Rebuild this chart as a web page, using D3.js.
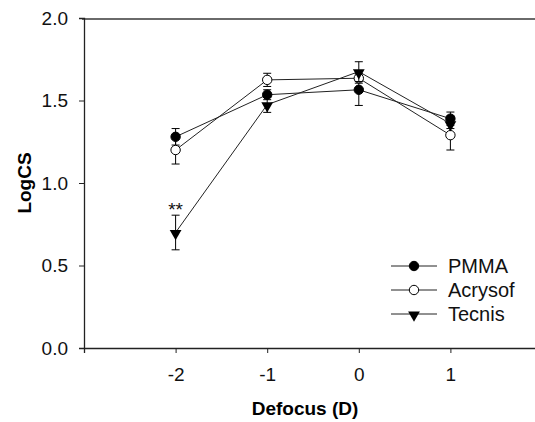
<!DOCTYPE html>
<html>
<head>
<meta charset="utf-8">
<script src="https://cdn.jsdelivr.net/npm/d3@7"></script>
<style>
  body { margin: 0; background: #fff; }
  svg { font-family: Arial, "Liberation Sans", sans-serif; }
</style>
</head>
<body>
<script>
// defocus levels (D)
var defocus = [-2, -1, 0, 1];
var seriesNames = ["PMMA", "Acrysof", "Tecnis"];

// LogCS means and SEM
var pmmaVals = [1.28, 1.535, 1.565, 1.39];
var pmmaErr = [0.05, 0.03, 0.095, 0.04];
var acrysofVals = [1.20, 1.625, 1.635, 1.29];
var acrysofErr = [0.085, 0.04, 0.03, 0.09];
var tecnisVals = [0.70, 1.475, 1.675, 1.36];
var tecnisErr = [0.105, 0.047, 0.06, 0.03];

var yTicks = [0.0, 0.5, 1.0, 1.5, 2.0];

function chart() {
    var width = 535, height = 422;
    var margin = {left: 84, top: 18, right: -7, bottom: 74};

    var svg = d3.select("body").append("svg")
        .attr("width", width)
        .attr("height", height);

    var x = d3.scaleLinear().domain([-3, 2])
        .range([margin.left, width - margin.right]);
    var y = d3.scaleLinear().domain([0, 2])
        .range([height - margin.bottom, margin.top]);

    // top frame line
    svg.append("line")
        .attr("x1", x(-3) - 2).attr("x2", width)
        .attr("y1", y(2) + 1).attr("y2", y(2) + 1)
        .attr("stroke", "#6a6a6a").attr("stroke-width", 2);

    var yAxis = svg.append("g")
        .attr("transform", "translate(" + x(-3) + ",0)")
        .call(d3.axisLeft(y).tickValues(yTicks).tickFormat(d3.format(".1f")).tickSize(5).tickPadding(11));
    var xAxis = svg.append("g")
        .attr("transform", "translate(0," + y(0) + ")")
        .call(d3.axisBottom(x).tickValues(defocus).tickFormat(d3.format("d")).tickSize(5).tickPadding(15));

    [xAxis, yAxis].forEach(function (ax) {
        ax.select(".domain").attr("stroke", "#222").attr("stroke-width", 1.3);
        ax.selectAll(".tick line").attr("stroke", "#222");
        ax.selectAll(".tick text").attr("font-size", 19).attr("fill", "#111")
            .attr("font-family", "Arial, 'Liberation Sans', sans-serif");
    });
    xAxis.selectAll(".tick text").text(function (d) { return d < 0 ? "-" + Math.abs(d) : d; });

    svg.append("text")
        .attr("x", 305).attr("y", 415)
        .attr("text-anchor", "middle")
        .attr("font-size", 19).attr("font-weight", "bold")
        .text("Defocus (D)");

    svg.append("text")
        .attr("transform", "translate(31," + y(1) + ") rotate(-90)")
        .attr("text-anchor", "middle")
        .attr("font-size", 19).attr("font-weight", "bold")
        .text("LogCS");

    var series = [
        {name: seriesNames[0], vals: pmmaVals, err: pmmaErr, marker: "filled"},
        {name: seriesNames[1], vals: acrysofVals, err: acrysofErr, marker: "open"},
        {name: seriesNames[2], vals: tecnisVals, err: tecnisErr, marker: "tri"}
    ];

    var line = d3.line()
        .x(function (d) { return x(d.x); })
        .y(function (d) { return y(d.v); });

    function drawMarker(g, type, cx, cy) {
        if (type === "tri") {
            g.append("path")
                .attr("d", d3.symbol().type(d3.symbolTriangle).size(60)())
                .attr("transform", "translate(" + cx + "," + (cy + 1) + ") rotate(180)")
                .attr("fill", "#000");
        } else {
            g.append("circle")
                .attr("cx", cx).attr("cy", cy).attr("r", 4.7)
                .attr("fill", type === "filled" ? "#000" : "#fff")
                .attr("stroke", "#000").attr("stroke-width", 1);
        }
    }

    series.forEach(function (s) {
        var pts = defocus.map(function (d, i) { return {x: d, v: s.vals[i], e: s.err[i]}; });
        var g = svg.append("g");

        pts.forEach(function (p) {
            var cx = x(p.x);
            g.append("line").attr("x1", cx).attr("x2", cx)
                .attr("y1", y(p.v - p.e)).attr("y2", y(p.v + p.e))
                .attr("stroke", "#000").attr("stroke-width", 1);
            [p.v - p.e, p.v + p.e].forEach(function (v) {
                g.append("line").attr("x1", cx - 4).attr("x2", cx + 4)
                    .attr("y1", y(v)).attr("y2", y(v))
                    .attr("stroke", "#000").attr("stroke-width", 1);
            });
        });

        g.append("path").datum(pts)
            .attr("d", line)
            .attr("fill", "none").attr("stroke", "#222").attr("stroke-width", 1);

        pts.forEach(function (p) { drawMarker(g, s.marker, x(p.x), y(p.v)); });
    });

    // significance mark
    svg.append("text")
        .attr("x", x(-2)).attr("y", y(tecnisVals[0] + tecnisErr[0]) + 1)
        .attr("text-anchor", "middle")
        .attr("font-size", 19).attr("fill", "#111")
        .text("**");

    // legend
    var legend = svg.append("g");
    series.forEach(function (s, i) {
        var ly = 266 + i * 24;
        legend.append("line").attr("x1", 391).attr("x2", 437)
            .attr("y1", ly).attr("y2", ly)
            .attr("stroke", "#222").attr("stroke-width", 1);
        drawMarker(legend, s.marker, 414, ly);
        legend.append("text")
            .attr("x", 448).attr("y", ly + 7)
            .attr("font-size", 20).attr("fill", "#111")
            .text(s.name);
    });
}

window.onload = function () {
    chart();
};
</script>
</body>
</html>
